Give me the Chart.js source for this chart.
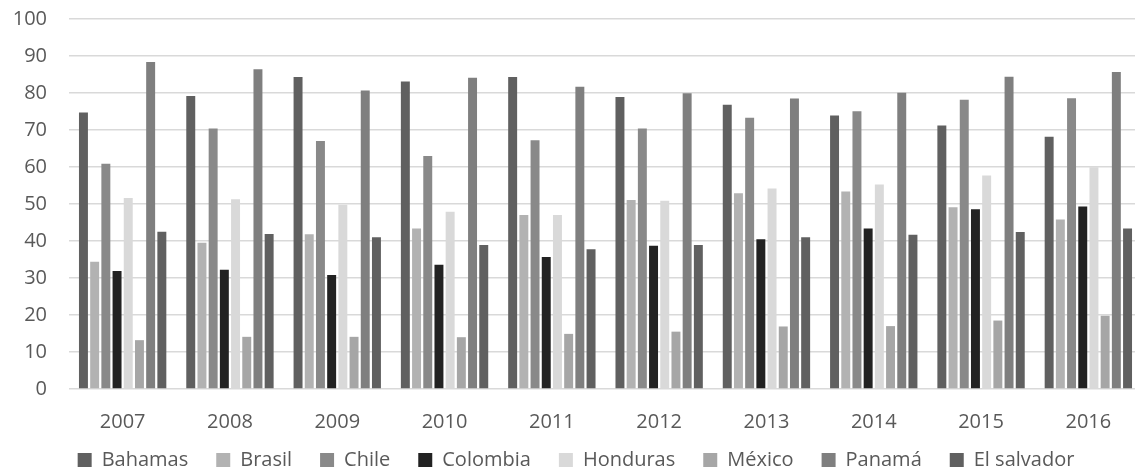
<!DOCTYPE html>
<html>
<head>
<meta charset="utf-8">
<script src="https://cdn.jsdelivr.net/npm/chart.js@4/dist/chart.umd.min.js"></script>
<style>
  html, body { margin: 0; padding: 0; background: #ffffff; overflow: hidden; }
  #frame { position: relative; width: 1135px; height: 473px; overflow: hidden; }
  #wrap { position: absolute; left: 0; top: -15px; width: 1160px; height: 488px; }
</style>
</head>
<body>
<div id="frame"><div id="wrap"><canvas id="chart"></canvas></div></div>
<script>
// Years on the category axis
const years = ['2007', '2008', '2009', '2010', '2011', '2012', '2013', '2014', '2015', '2016'];

// One series per country
const bahamas    = [74.7, 79.2, 84.3, 83.1, 84.3, 78.9, 76.8, 73.9, 71.2, 68.2];
const brasil     = [34.4, 39.5, 41.8, 43.4, 47.0, 51.1, 52.9, 53.4, 49.1, 45.8];
const chile      = [60.9, 70.4, 67.0, 63.0, 67.2, 70.4, 73.3, 75.1, 78.2, 78.6];
const colombia   = [31.9, 32.2, 30.8, 33.6, 35.7, 38.7, 40.5, 43.4, 48.6, 49.3];
const honduras   = [51.6, 51.3, 49.8, 47.9, 47.0, 50.9, 54.2, 55.3, 57.7, 59.9];
const mexico     = [13.2, 14.1, 14.1, 14.0, 14.9, 15.5, 16.9, 17.0, 18.5, 19.8];
const panama     = [88.4, 86.4, 80.7, 84.1, 81.7, 79.9, 78.5, 80.1, 84.4, 85.7];
const elSalvador = [42.5, 41.9, 41.0, 38.9, 37.8, 38.9, 41.0, 41.7, 42.4, 43.4];

// Value axis tick labels
const yTicks = [0, 10, 20, 30, 40, 50, 60, 70, 80, 90, 100];

const seriesNames = ['Bahamas', 'Brasil', 'Chile', 'Colombia', 'Honduras', 'México', 'Panamá', 'El salvador'];
const seriesData = [bahamas, brasil, chile, colombia, honduras, mexico, panama, elSalvador];
const seriesColors = ['#606060', '#b2b2b2', '#898989', '#222222', '#d9d9d9', '#a6a6a6', '#7f7f7f', '#606060'];

const textColor = '#595959';
const fontFamily = '"Open Sans", "Noto Sans", sans-serif';

// Keep the legend row compact vertically while its items stay widely spaced,
// and let it start a little higher, closer to the year labels
const compactLegend = {
  id: 'compactLegend',
  afterInit(chart) {
    const legend = chart.legend;
    if (!legend) return;
    const fit = legend.fit.bind(legend);
    legend.fit = function () {
      fit();
      this.height = 40;
    };
  },
  afterLayout(chart) {
    const legend = chart.legend;
    if (!legend) return;
    legend.top -= 11;
  }
};

new Chart(document.getElementById('chart'), {
  type: 'bar',
  data: {
    labels: years,
    datasets: seriesNames.map((name, i) => ({
      label: name,
      data: seriesData[i],
      backgroundColor: seriesColors[i],
      borderWidth: 0,
      categoryPercentage: 0.835,
      barPercentage: 0.8
    }))
  },
  plugins: [compactLegend],
  options: {
    responsive: true,
    maintainAspectRatio: false,
    animation: false,
    layout: { padding: { left: 10, right: 18, top: 0, bottom: 0 } },
    plugins: {
      tooltip: { enabled: false },
      legend: {
        position: 'bottom',
        labels: {
          color: textColor,
          font: { family: fontFamily, size: 20 },
          boxWidth: 14,
          boxHeight: 14,
          padding: 28
        }
      }
    },
    scales: {
      x: {
        grid: { display: false, drawTicks: false },
        border: { display: false },
        afterFit: axis => { axis.height = 44; },
        ticks: {
          color: textColor,
          font: { family: fontFamily, size: 20, lineHeight: 0.1 },
          padding: 32,
          maxRotation: 0
        }
      },
      y: {
        min: 0,
        max: 100,
        afterBuildTicks: axis => { axis.ticks = yTicks.map(v => ({ value: v })); },
        afterFit: axis => { axis.width = 59; },
        grid: { color: '#d9d9d9', lineWidth: 1.5, drawTicks: false },
        border: { display: false },
        ticks: {
          color: textColor,
          font: { family: fontFamily, size: 20 },
          padding: 22
        }
      }
    }
  }
});
</script>
</body>
</html>
